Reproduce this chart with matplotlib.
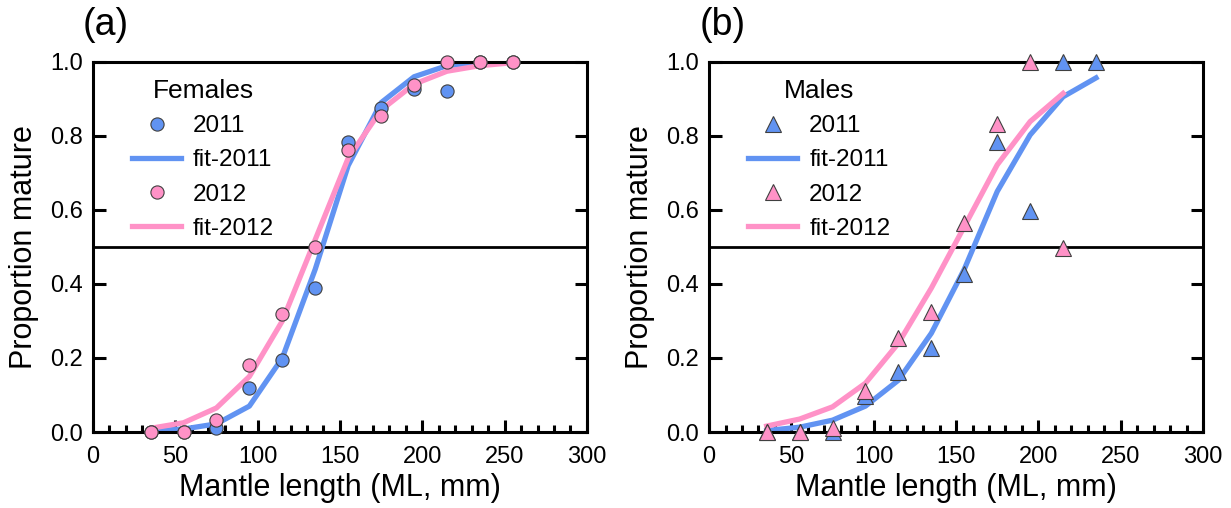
import matplotlib
matplotlib.use("Agg")
import matplotlib.pyplot as plt
from matplotlib.ticker import MultipleLocator

plt.rcParams['font.family'] = ['Liberation Sans', 'DejaVu Sans']

# mantle length classes (mm)
ml = [35, 55, 75, 95, 115, 135, 155, 175, 195, 215, 235, 255]

# females
f_2011 = [0.0, 0.0, 0.01, 0.12, 0.195, 0.39, 0.785, 0.875, 0.928, 0.922, 1.0, 1.0]
f_fit_2011 = [0.003, 0.008, 0.022, 0.07, 0.20, 0.44, 0.72, 0.89, 0.96, 0.99, 0.998, 1.0]
f_2012 = [0.0, 0.0, 0.032, 0.18, 0.32, 0.50, 0.762, 0.855, 0.938, 1.0, 1.0, 1.0]
f_fit_2012 = [0.01, 0.025, 0.065, 0.15, 0.30, 0.52, 0.74, 0.87, 0.94, 0.975, 0.99, 0.998]

# males
ml_m11 = [35, 55, 75, 95, 115, 135, 155, 175, 195, 215, 235]
m_2011 = [0.0, 0.0, 0.0, 0.097, 0.162, 0.227, 0.427, 0.785, 0.598, 1.0, 1.0]
m_fit_2011 = [0.004, 0.013, 0.032, 0.07, 0.14, 0.267, 0.44, 0.65, 0.803, 0.906, 0.957]
ml_m12 = [35, 55, 75, 95, 115, 135, 155, 175, 195, 215]
m_2012 = [0.0, 0.0, 0.01, 0.112, 0.255, 0.324, 0.565, 0.832, 1.0, 0.497]
m_fit_2012 = [0.016, 0.035, 0.068, 0.132, 0.24, 0.389, 0.555, 0.722, 0.839, 0.915]

blue = '#6193F2'
pink = '#FF92C7'

fig = plt.figure(figsize=(12.31, 5.08), dpi=100)
ax1 = fig.add_axes([0.0755, 0.1496, 0.4013, 0.7284])
ax2 = fig.add_axes([0.576, 0.1496, 0.4013, 0.7284])


def style(ax):
    ax.set_xlim(0, 300)
    ax.set_ylim(0, 1.0)
    ax.xaxis.set_major_locator(MultipleLocator(50))
    ax.xaxis.set_minor_locator(MultipleLocator(10))
    ax.yaxis.set_major_locator(MultipleLocator(0.2))
    ax.yaxis.set_major_formatter(plt.FormatStrFormatter('%.1f'))
    for s in ax.spines.values():
        s.set_linewidth(2.2)
    ax.tick_params(which='both', direction='in', labelsize=17, width=2.2,
                   top=False, right=True)
    ax.tick_params(axis='x', pad=10)
    ax.tick_params(axis='y', pad=7)
    ax.tick_params(which='major', length=9)
    ax.tick_params(which='minor', length=5)
    ax.axhline(0.5, color='black', lw=2.0, zorder=1)
    ax.set_xlabel('Mantle length (ML, mm)', fontsize=22, labelpad=4)
    ax.set_ylabel('Proportion mature', fontsize=22, labelpad=8)


style(ax1)
ax1.plot(ml, f_2011, 'o', color=blue, mec='#404040', mew=0.8, ms=9.5,
         label='2011', zorder=3, clip_on=False)
ax1.plot(ml, f_fit_2011, '-', color=blue, lw=3.8, label='fit-2011', zorder=2)
ax1.plot(ml, f_2012, 'o', color=pink, mec='#404040', mew=0.8, ms=9.5,
         label='2012', zorder=4, clip_on=False)
ax1.plot(ml, f_fit_2012, '-', color=pink, lw=3.8, label='fit-2012', zorder=2)
ax1.legend(loc='upper left', bbox_to_anchor=(0.06, 0.98), frameon=False,
           title='Females', fontsize=17.5, title_fontsize=19,
           handlelength=2.0, handletextpad=0.5, labelspacing=0.5,
           borderaxespad=0)

style(ax2)
ax2.plot(ml_m11, m_2011, '^', color=blue, mec='#404040', mew=0.8, ms=11,
         label='2011', zorder=3, clip_on=False)
ax2.plot(ml_m11, m_fit_2011, '-', color=blue, lw=3.8, label='fit-2011', zorder=2)
ax2.plot(ml_m12, m_2012, '^', color=pink, mec='#404040', mew=0.8, ms=11,
         label='2012', zorder=4, clip_on=False)
ax2.plot(ml_m12, m_fit_2012, '-', color=pink, lw=3.8, label='fit-2012', zorder=2)
ax2.legend(loc='upper left', bbox_to_anchor=(0.06, 0.98), frameon=False,
           title='Males', fontsize=17.5, title_fontsize=19,
           handlelength=2.0, handletextpad=0.5, labelspacing=0.5,
           borderaxespad=0)

fig.text(0.067, 0.915, '(a)', fontsize=27, ha='left', va='bottom')
fig.text(0.568, 0.915, '(b)', fontsize=27, ha='left', va='bottom')

fig.savefig('out.png', dpi=100)
